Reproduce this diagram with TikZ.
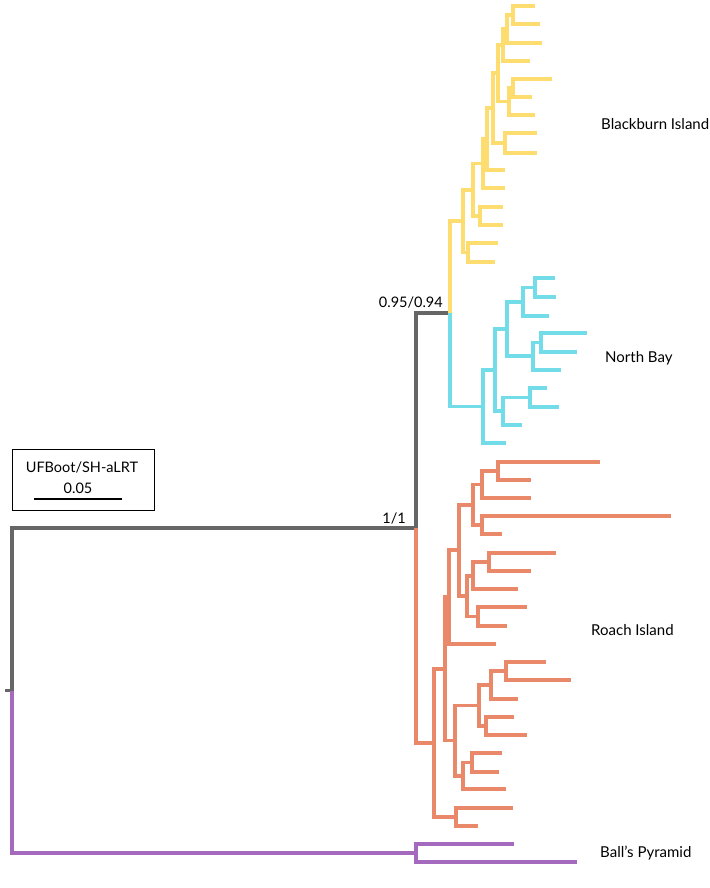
\documentclass[tikz,border=0pt]{standalone}
\usepackage{fontspec}
\setmainfont{Lato}
\definecolor{cgray}{RGB}{102,102,102}
\definecolor{cyel}{RGB}{253,221,112}
\definecolor{ccyan}{RGB}{114,220,232}
\definecolor{cora}{RGB}{234,137,105}
\definecolor{cpur}{RGB}{164,106,190}
\begin{document}
\begin{tikzpicture}[x=1pt,y=-1pt,
  br/.style={line width=3.2pt,line join=miter},
  gr/.style={br,draw=cgray},
  ye/.style={br,draw=cyel},
  cy/.style={br,draw=ccyan},
  og/.style={br,draw=cora},
  pu/.style={br,draw=cpur},
  lab/.style={inner sep=0pt,font=\fontsize{14.5}{17}\selectfont},
  clab/.style={inner sep=0pt,font=\fontsize{15}{18}\selectfont},
  boxst/.style={draw=black,line width=1.3pt,inner sep=0pt,minimum width=142pt,minimum height=61pt}]
\useasboundingbox (0,0) rectangle (709,888);
% backbone
\coordinate (Rs) at (5,690.5);
\coordinate (R) at (12,690.5);
\coordinate (A) at (416,528);
\coordinate (B) at (450,313);
\coordinate (P) at (416,853);
% yellow
\coordinate (Y0) at (463,221);
\coordinate (Y1) at (473,190);
\coordinate (Y2) at (468,252.5);
\coordinate (Y3) at (483,163.5);
\coordinate (Y4) at (480,216);
\coordinate (Y5) at (487,139);
\coordinate (Y6) at (493,108);
\coordinate (Y7) at (498,73);
\coordinate (Y8) at (505,143);
\coordinate (Y9) at (503,45);
\coordinate (Y10) at (509,101.5);
\coordinate (Y11) at (513,88);
\coordinate (Y12) at (507,29);
\coordinate (Y13) at (513,15);
% cyan
\coordinate (C0) at (483,406.5);
\coordinate (C1) at (495,370);
\coordinate (C2) at (507,329);
\coordinate (C3) at (503,411);
\coordinate (C4) at (530,397.5);
\coordinate (C5) at (523,302);
\coordinate (C6) at (533,356);
\coordinate (C7) at (535,287.5);
\coordinate (C8) at (541,342.5);
% orange
\coordinate (O0) at (434,743);
\coordinate (O1) at (445,669);
\coordinate (O2) at (456,817);
\coordinate (O3) at (449,597);
\coordinate (O4) at (455,740.5);
\coordinate (O5) at (479,705.5);
\coordinate (O6) at (463,776);
\coordinate (O7) at (472,762.5);
\coordinate (O8) at (491,685);
\coordinate (O9) at (486,726);
\coordinate (O10) at (506,671);
\coordinate (O11) at (459,550);
\coordinate (O12) at (473,505);
\coordinate (O13) at (467,596);
\coordinate (O14) at (473,576);
\coordinate (O15) at (478,616.5);
\coordinate (O16) at (489,562);
\coordinate (O17) at (482,484.5);
\coordinate (O18) at (482,525);
\coordinate (O19) at (498,471);

% gray backbone
\draw[gr] (Rs) -- (R);
\draw[gr] (R) |- (A);
\draw[gr] (A) |- (B);
% purple
\draw[pu] (R) |- (P);
\draw[pu] (P) |- (514,844) coordinate (p1);
\draw[pu] (P) |- (577,862) coordinate (p2);

% yellow clade
\draw[ye] (B) |- (Y0);
\foreach \a/\b in {Y0/Y1,Y0/Y2,Y1/Y3,Y1/Y4,Y3/Y5,Y5/Y6,Y6/Y7,Y6/Y8,Y7/Y9,Y7/Y10,Y10/Y11,Y9/Y12,Y12/Y13}
  \draw[ye] (\a) |- (\b);
\draw[ye] (Y13) |- (535,6) coordinate (yl1);
\draw[ye] (Y13) |- (540,24) coordinate (yl2);
\draw[ye] (Y12) |- (542,43) coordinate (yl3);
\draw[ye] (Y9) |- (530,61) coordinate (yl4);
\draw[ye] (Y11) |- (552,79) coordinate (yl5);
\draw[ye] (Y11) |- (532,97) coordinate (yl6);
\draw[ye] (Y10) |- (535,115) coordinate (yl7);
\draw[ye] (Y8) |- (537,133) coordinate (yl8);
\draw[ye] (Y8) |- (537,153) coordinate (yl9);
\draw[ye] (Y5) |- (505,170) coordinate (yl10);
\draw[ye] (Y3) |- (505,188) coordinate (yl11);
\draw[ye] (Y4) |- (503,207) coordinate (yl12);
\draw[ye] (Y4) |- (503,225) coordinate (yl13);
\draw[ye] (Y2) |- (498,243) coordinate (yl14);
\draw[ye] (Y2) |- (495,262) coordinate (yl15);

% cyan clade
\draw[cy] (B) |- (C0);
\foreach \a/\b in {C0/C1,C1/C2,C1/C3,C3/C4,C2/C5,C2/C6,C5/C7,C6/C8}
  \draw[cy] (\a) |- (\b);
\draw[cy] (C0) |- (506,443) coordinate (cl1);
\draw[cy] (C3) |- (522,425) coordinate (cl2);
\draw[cy] (C4) |- (547,388) coordinate (cl3);
\draw[cy] (C4) |- (559,407) coordinate (cl4);
\draw[cy] (C5) |- (549,316) coordinate (cl5);
\draw[cy] (C7) |- (555,278) coordinate (cl6);
\draw[cy] (C7) |- (556,297) coordinate (cl7);
\draw[cy] (C6) |- (561,370) coordinate (cl8);
\draw[cy] (C8) |- (587,333) coordinate (cl9);
\draw[cy] (C8) |- (577,352) coordinate (cl10);

% orange clade
\draw[og] (A) |- (O0);
\foreach \a/\b in {O0/O1,O0/O2,O1/O3,O1/O4,O4/O5,O4/O6,O6/O7,O5/O8,O5/O9,O8/O10,O3/O11,O11/O12,O11/O13,O13/O14,O13/O15,O14/O16,O12/O17,O12/O18,O17/O19}
  \draw[og] (\a) |- (\b);
\draw[og] (O2) |- (513,808) coordinate (ol1);
\draw[og] (O2) |- (478,826) coordinate (ol2);
\draw[og] (O6) |- (506,789) coordinate (ol3);
\draw[og] (O7) |- (502,753) coordinate (ol4);
\draw[og] (O7) |- (499,772) coordinate (ol5);
\draw[og] (O9) |- (514,717) coordinate (ol6);
\draw[og] (O9) |- (527,735) coordinate (ol7);
\draw[og] (O8) |- (518,699) coordinate (ol8);
\draw[og] (O10) |- (546,662) coordinate (ol9);
\draw[og] (O10) |- (571,680) coordinate (ol10);
\draw[og] (O3) |- (496,644) coordinate (ol11);
\draw[og] (O15) |- (527,607) coordinate (ol12);
\draw[og] (O15) |- (507,626) coordinate (ol13);
\draw[og] (O14) |- (518,589) coordinate (ol14);
\draw[og] (O16) |- (556,553) coordinate (ol15);
\draw[og] (O16) |- (531,571) coordinate (ol16);
\draw[og] (O18) |- (671,516) coordinate (ol17);
\draw[og] (O18) |- (502,534) coordinate (ol18);
\draw[og] (O17) |- (531,498) coordinate (ol19);
\draw[og] (O19) |- (600,462) coordinate (ol20);
\draw[og] (O19) |- (531,480) coordinate (ol21);

% support labels
\node[lab,anchor=base east] (sB) at (443,307) {0.95/0.94};
\node[lab,anchor=base east] (sA) at (406,523) {1/1};
% clade labels
\node[clab,anchor=base west] (tBI) at (601,129) {Blackburn Island};
\node[clab,anchor=base west] (tNB) at (605,362) {North Bay};
\node[clab,anchor=base west] (tRI) at (591,635) {Roach Island};
\node[clab,anchor=base west] (tBP) at (600,857) {Ball’s Pyramid};
% legend box
\node[boxst,anchor=north west] (box) at (12,449) {};
\node[lab,anchor=base] (tUF) at (82,472) {UFBoot/SH-aLRT};
\node[lab,anchor=base] (tsc) at (78,493) {0.05};
\coordinate (sb1) at (34,499);
\coordinate (sb2) at (122,499);
\draw[line width=1.3pt] (sb1) -- (sb2);
\end{tikzpicture}
\end{document}
